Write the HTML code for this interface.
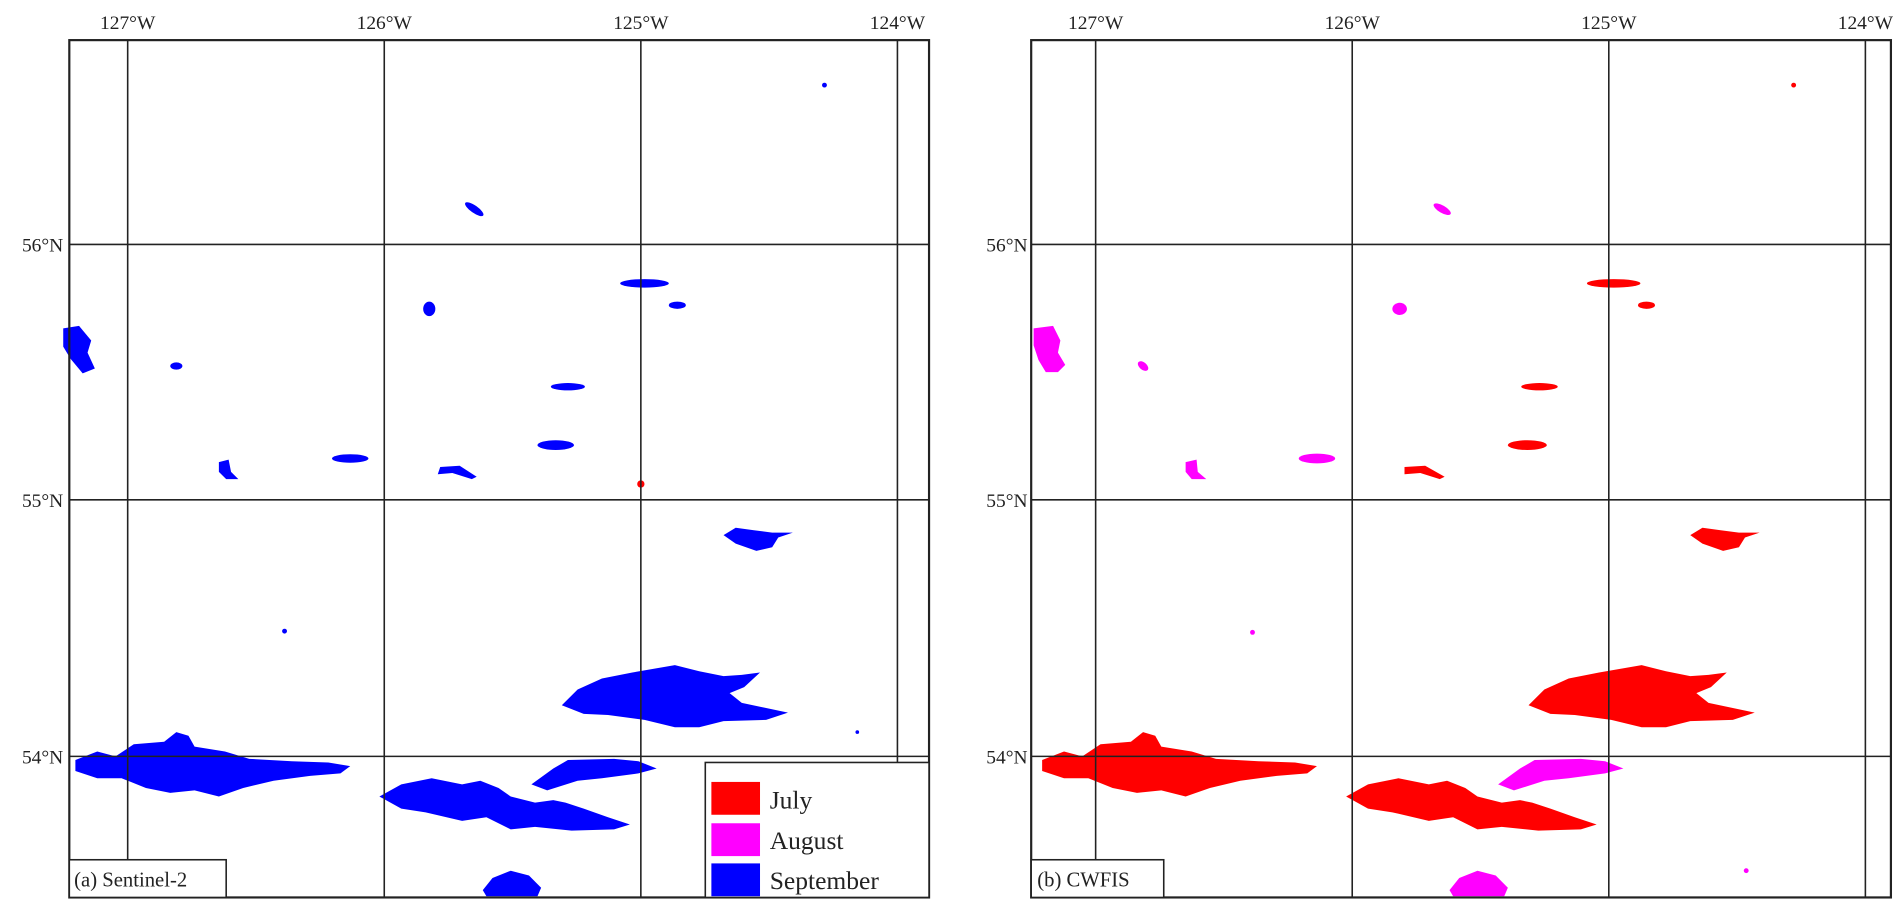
<!DOCTYPE html>
<html><head><meta charset="utf-8"><style>
html,body{margin:0;padding:0;background:#fff;}
svg{display:block;}
text{font-family:"Liberation Serif",serif;fill:#222;}
</style></head><body>
<svg width="1897" height="909" viewBox="0 0 1560 747.5" preserveAspectRatio="none" xmlns="http://www.w3.org/2000/svg">
<defs>
<path id="f1" d="M62,625 L80,618 L95,622 L110,612 L135,610 L145,602 L155,605 L160,614 L185,618 L205,624 L240,626 L270,627 L288,630 L280,636 L255,638 L225,642 L200,648 L180,655 L160,650 L140,652 L120,648 L100,640 L80,640 L62,634 Z"/>
<path id="f2" d="M312,655 L330,645 L355,640 L380,645 L395,642 L410,648 L420,655 L440,660 L455,658 L465,660 L480,665 L500,672 L518,678 L505,682 L470,683 L440,680 L420,682 L400,672 L380,675 L350,668 L330,665 Z"/>
<path id="f3" d="M462,580 L475,567 L495,558 L520,553 L555,547 L575,552 L595,556 L610,555 L625,553 L612,565 L600,570 L610,578 L648,586 L630,592 L595,593 L575,598 L555,598 L530,592 L500,588 L480,587 Z"/>
<path id="f5" d="M595,440 L605,434 L620,436 L635,438 L652,438 L640,442 L635,450 L622,453 L605,447 Z"/>
<path id="f6" d="M397,732 L405,722 L420,716 L435,720 L445,730 L442,737 L400,737 Z"/>
<g id="sm">
<path d="M52,270 L65,268 L75,280 L72,290 L78,303 L68,307 L58,295 L52,285 Z"/>
<ellipse cx="145" cy="301" rx="5" ry="3"/>
<ellipse cx="467" cy="318" rx="14" ry="3"/>
<ellipse cx="457" cy="366" rx="15" ry="4"/>
<ellipse cx="288" cy="377" rx="15" ry="3.5"/>
<path d="M362,384 L378,383 L392,392 L388,394 L372,389 L360,390 Z"/>
<path d="M180,380 L188,378 L190,388 L196,394 L186,394 L180,388 Z"/>
<ellipse cx="390" cy="172" rx="9" ry="3" transform="rotate(35 390 172)"/>
<ellipse cx="530" cy="233" rx="20" ry="3.5"/>
<ellipse cx="557" cy="251" rx="7" ry="3"/>
<ellipse cx="353" cy="254" rx="5" ry="6"/>
</g>
</defs>

<!-- LEFT PANEL -->
<g fill="#0000ff">
<use href="#f1"/><use href="#f2"/><use href="#f3"/><use href="#f5"/><use href="#f6"/><use href="#sm"/>
<path d="M437,645 L455,632 L467,625 L505,624 L525,626 L540,632 L525,636 L495,640 L475,642 L450,650 Z"/>
<circle cx="678" cy="70" r="2"/><circle cx="234" cy="519" r="2"/><circle cx="705" cy="602" r="1.5"/>
</g>
<ellipse cx="527" cy="398" rx="3" ry="3" fill="#ff0000"/>
<g stroke="#222" stroke-width="1.3" fill="none">
<line x1="105" y1="33" x2="105" y2="738"/><line x1="316" y1="33" x2="316" y2="738"/>
<line x1="527" y1="33" x2="527" y2="738"/><line x1="738" y1="33" x2="738" y2="738"/>
<line x1="57" y1="201" x2="764" y2="201"/><line x1="57" y1="411" x2="764" y2="411"/><line x1="57" y1="622" x2="764" y2="622"/>
<rect x="57" y="33" width="707" height="705" stroke-width="1.8"/>
</g>
<rect x="580" y="627" width="184" height="111" fill="#fff" stroke="#222" stroke-width="1.3"/>
<rect x="585" y="643" width="40" height="27" fill="#ff0000"/>
<rect x="585" y="677" width="40" height="27" fill="#ff00ff"/>
<rect x="585" y="710" width="40" height="27" fill="#0000ff"/>
<text x="633" y="665" font-size="21">July</text>
<text x="633" y="698" font-size="21">August</text>
<text x="633" y="731" font-size="21">September</text>
<rect x="57" y="707" width="129" height="31" fill="#fff" stroke="#222" stroke-width="1.3"/>
<text x="61" y="729" font-size="17">(a) Sentinel-2</text>

<!-- RIGHT PANEL -->
<g transform="translate(795,0)">
<g fill="#ff0000"><use href="#f1"/><use href="#f2"/><use href="#f3"/><use href="#f5"/></g>
<use href="#f6" fill="#ff00ff"/>
<path d="M437,645 L455,632 L467,625 L505,624 L525,626 L540,632 L525,636 L495,640 L475,642 L450,650 Z" fill="#ff00ff"/>
</g>
<g fill="#ff00ff">
<path d="M850,270 L866,268 L872,280 L870,290 L876,300 L870,306 L860,306 L854,296 L850,284 Z"/>
<ellipse cx="940" cy="301" rx="5" ry="3" transform="rotate(40 940 301)"/>
<ellipse cx="1083" cy="377" rx="15" ry="4"/>
<path d="M975,380 L984,378 L985,388 L992,394 L980,394 L975,388 Z"/>
<ellipse cx="1186" cy="172" rx="8" ry="3" transform="rotate(30 1186 172)"/>
<ellipse cx="1151" cy="254" rx="6" ry="5"/>
<circle cx="1030" cy="520" r="2"/><circle cx="1436" cy="716" r="2"/>
</g>
<g fill="#ff0000">
<ellipse cx="1266" cy="318" rx="15" ry="3"/>
<ellipse cx="1256" cy="366" rx="16" ry="4"/>
<path d="M1155,384 L1172,383 L1188,392 L1184,394 L1168,389 L1155,390 Z"/>
<ellipse cx="1327" cy="233" rx="22" ry="3.5"/>
<ellipse cx="1354" cy="251" rx="7" ry="3"/>
<circle cx="1475" cy="70" r="2"/>
</g>
<g stroke="#222" stroke-width="1.3" fill="none">
<line x1="901" y1="33" x2="901" y2="738"/><line x1="1112" y1="33" x2="1112" y2="738"/>
<line x1="1323" y1="33" x2="1323" y2="738"/><line x1="1534" y1="33" x2="1534" y2="738"/>
<line x1="848" y1="201" x2="1555" y2="201"/><line x1="848" y1="411" x2="1555" y2="411"/><line x1="848" y1="622" x2="1555" y2="622"/>
<rect x="848" y="33" width="707" height="705" stroke-width="1.8"/>
</g>
<rect x="848" y="707" width="109" height="31" fill="#fff" stroke="#222" stroke-width="1.3"/>
<text x="853" y="729" font-size="17">(b) CWFIS</text>

<!-- tick labels -->
<g font-size="16" text-anchor="middle">
<text x="105" y="24">127°W</text><text x="316" y="24">126°W</text><text x="527" y="24">125°W</text><text x="738" y="24">124°W</text>
<text x="901" y="24">127°W</text><text x="1112" y="24">126°W</text><text x="1323" y="24">125°W</text><text x="1534" y="24">124°W</text>
</g>
<g font-size="16" text-anchor="end">
<text x="52" y="207">56°N</text><text x="52" y="417">55°N</text><text x="52" y="628">54°N</text>
<text x="845" y="207">56°N</text><text x="845" y="417">55°N</text><text x="845" y="628">54°N</text>
</g>
</svg>
</body></html>
